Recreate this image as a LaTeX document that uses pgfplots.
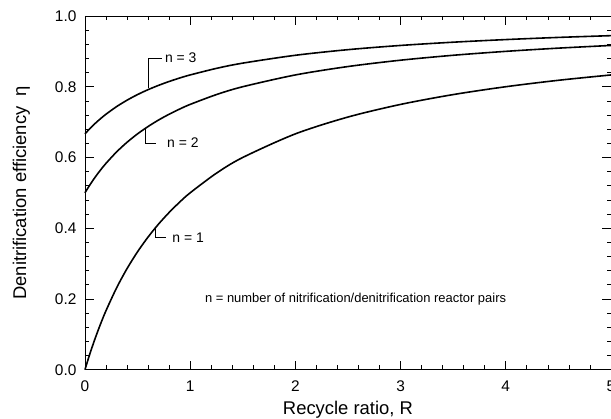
\documentclass[border=0pt]{standalone}
\usepackage{fontspec}
\setmainfont{Liberation Sans}
\usepackage{pgfplots}
\pgfplotsset{compat=1.18}

\begin{document}
\begin{tikzpicture}
\begin{axis}[
  scale only axis, width=526.5bp, height=354bp,
  xmin=0, xmax=5, ymin=0, ymax=1,
  xtick={0,1,2,3,4,5}, ytick={0,0.2,0.4,0.6,0.8,1.0},
  minor x tick num=4, minor y tick num=4,
  tick align=inside, major tick length=9bp, minor tick length=4.5bp,
  tick style={black, line width=0.7bp},
  axis line style={line width=0.8bp},
  /pgf/number format/assume math mode=true,
  tick label style={font=\fontsize{15.5}{17}\selectfont},
  xticklabel style={yshift=-8bp},
  yticklabel style={xshift=-5bp, /pgf/number format/fixed, /pgf/number format/fixed zerofill, /pgf/number format/precision=1},
  xlabel={Recycle ratio, R},
  ylabel={Denitrification efficiency\ \ η},
  label style={font=\fontsize{18.5}{21}\selectfont},
  xlabel style={at={(axis cs:2.5,-0.127)}, anchor=base},
  ylabel style={at={(axis cs:-0.56,0.5)}, anchor=base},
  clip=false,
]
% n = 1
\addplot[black, line width=1.6bp, smooth] coordinates {
  (0,0) (0.05,0.0476) (0.1,0.0909) (0.15,0.1304) (0.2,0.1667) (0.3,0.2308)
  (0.4,0.2857) (0.5,0.3333) (0.6,0.375) (0.7,0.4118) (0.8,0.4444) (0.9,0.4737)
  (1.0,0.5) (1.25,0.5556) (1.5,0.6) (2,0.6667) (2.5,0.7143) (3,0.75)
  (3.5,0.7778) (4,0.8) (4.5,0.8182) (5,0.8333)};
% n = 2
\addplot[black, line width=1.6bp, smooth] coordinates {
  (0,0.5) (0.05,0.5238) (0.1,0.5455) (0.15,0.5652) (0.2,0.5833) (0.3,0.6154)
  (0.4,0.6429) (0.5,0.6667) (0.6,0.6875) (0.7,0.7059) (0.8,0.7222) (0.9,0.7368)
  (1.0,0.75) (1.25,0.7778) (1.5,0.8) (2,0.8333) (2.5,0.8571) (3,0.875)
  (3.5,0.8889) (4,0.9) (4.5,0.9091) (5,0.9167)};
% n = 3
\addplot[black, line width=1.6bp, smooth] coordinates {
  (0,0.6667) (0.05,0.6825) (0.1,0.6970) (0.15,0.7101) (0.2,0.7222) (0.3,0.7436)
  (0.4,0.7619) (0.5,0.7778) (0.6,0.7917) (0.7,0.8039) (0.8,0.8148) (0.9,0.8246)
  (1.0,0.8333) (1.25,0.8519) (1.5,0.8667) (2,0.8889) (2.5,0.9048) (3,0.9167)
  (3.5,0.9259) (4,0.9333) (4.5,0.9394) (5,0.9444)};

% leader lines and labels
\draw[black, line width=0.7bp] (axis cs:0.60,0.795) -- (axis cs:0.60,0.881) -- (axis cs:0.73,0.881);
\node[anchor=west, inner sep=0pt, font=\fontsize{14}{16}\selectfont] at (axis cs:0.76,0.881) {n = 3};
\draw[black, line width=0.7bp] (axis cs:0.57,0.683) -- (axis cs:0.57,0.641) -- (axis cs:0.68,0.641);
\node[anchor=west, inner sep=0pt, font=\fontsize{14}{16}\selectfont] at (axis cs:0.78,0.641) {n = 2};
\draw[black, line width=0.7bp] (axis cs:0.67,0.401) -- (axis cs:0.67,0.373) -- (axis cs:0.77,0.373);
\node[anchor=west, inner sep=0pt, font=\fontsize{14}{16}\selectfont] at (axis cs:0.83,0.373) {n = 1};
\node[anchor=west, inner sep=0pt, font=\fontsize{13}{15}\selectfont] at (axis cs:1.14,0.20)
  {n = number of nitrification/denitrification reactor pairs};
\end{axis}
\pgfresetboundingbox
\path[use as bounding box] (-85bp,-49bp) rectangle (526.5bp,370bp);
\end{tikzpicture}
\end{document}
